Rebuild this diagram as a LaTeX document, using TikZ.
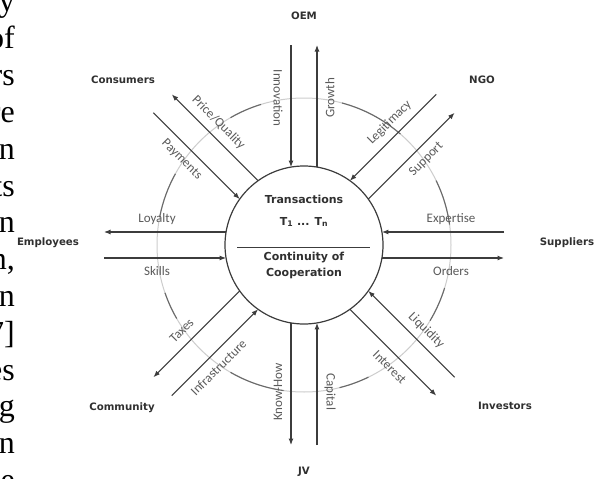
\documentclass[tikz,border=0pt]{standalone}
\usepackage{fontspec}
\setmainfont{Liberation Serif}
\newfontfamily\lblfont{Carlito}
\newfontfamily\namefont{DejaVu Sans}
\usetikzlibrary{arrows.meta,calc}
\definecolor{arrowgray}{HTML}{3C3C3C}
\definecolor{labelgray}{HTML}{5A5A5A}
\definecolor{namegray}{HTML}{303030}
\definecolor{ringdark}{HTML}{6A6A6A}
\definecolor{ringlight}{HTML}{CDCDCD}
\newcommand\pqtext{Price/Quality}
\begin{document}
\begin{tikzpicture}[x=1pt,y=1pt,
  conn/.style={draw=arrowgray, line width=1.1pt, -{Latex[length=6.5pt,width=5pt]}},
  flowlabel/.style={font=\lblfont\fontsize{13}{15}\selectfont, text=labelgray, inner sep=0pt},
  partner/.style={font=\namefont\bfseries\fontsize{10.2}{12}\selectfont, text=namegray, inner sep=0pt},
  hubtext/.style={font=\namefont\bfseries\fontsize{11}{13}\selectfont, text=namegray, inner sep=0pt},
  pagetext/.style={font=\fontsize{32}{36}\selectfont, anchor=base east, inner sep=0pt}]
\useasboundingbox (0,0) rectangle (595,-479);
\clip (0,0) rectangle (595,-479);
\fill[white] (0,0) rectangle (595,-479);

% cropped page text at the left edge
\foreach \w [count=\i] in {y,of,rs,re,n,ts,n,{n,},n,7],es,g,n,e}
  \node[pagetext] (p\i) at (15,{-12-(\i-1)*36.8}) {\w};

\coordinate (C) at (304,-245);

% outer ring
\draw[ringlight, line width=1pt] (C) circle (147);
\foreach \a/\b in {8/26, 49/75, 107/120, 151/169, 199/210, 240/262, 284/296, 329/343}
  \draw[ringdark, line width=1.1pt] ($(C)+(\a:147)$) arc[start angle=\a, end angle=\b, radius=147];

% hub
\node[circle, draw=arrowgray, line width=1.2pt, minimum size=158pt, inner sep=0pt] (hub) at (C) {};
\node[hubtext] (trans) at (304,-199) {Transactions};
\node[hubtext] (tnum) at (304,-222) {T\textsubscript{1} ... T\textsubscript{n}};
\coordinate (divl) at (237,-247);
\coordinate (divr) at (370,-247);
\draw[arrowgray, line width=1pt] (divl) -- (divr);
\node[hubtext] (cont) at (304,-258) {Continuity of};
\node[hubtext] (coop) at (304,-273) {Cooperation};

% flows
\foreach \t/\nm/\inl/\outl/\inr/\outr in {
   90/oem/Innovation/Growth/-90/90,
   45/ngo/Legitimacy/Support/45/45,
   0/sup/Expertise/Orders/0/0,
   -45/inv/Liquidity/Interest/-45/-45,
   -90/jv/Capital/Know-How/-90/90,
   -135/com/Infrastructure/Taxes/45/45,
   180/emp/Skills/Loyalty/0/0,
   135/con/Payments/\pqtext/-45/-45}{
  \coordinate (\nm-a)  at ($(C)+(\t:200)+(\t+90:13)$);
  \coordinate (\nm-ai) at ($(C)+(\t:77.9)+(\t+90:13)$);
  \coordinate (\nm-b)  at ($(C)+(\t:77.9)+(\t-90:13)$);
  \coordinate (\nm-bo) at ($(C)+(\t:200)+(\t-90:13)$);
  \draw[conn] (\nm-a) -- (\nm-ai);
  \draw[conn] (\nm-b) -- (\nm-bo);
  \node[flowlabel, rotate=\inr]  (\nm-il) at ($(C)+(\t:147)+(\t+90:26)$) {\inl};
  \node[flowlabel, rotate=\outr] (\nm-ol) at ($(C)+(\t:147)+(\t-90:26)$) {\outl};
}

% partners
\node[partner] (OEM) at (304,-16) {OEM};
\node[partner] (NGO) at (482,-80) {NGO};
\node[partner] (Consumers) at (123,-80) {Consumers};
\node[partner] (Employees) at (48,-243) {Employees};
\node[partner] (Suppliers) at (567,-243) {Suppliers};
\node[partner] (Community) at (122,-408) {Community};
\node[partner] (Investors) at (505,-406) {Investors};
\node[partner] (JV) at (304,-472) {JV};
\end{tikzpicture}
\end{document}
